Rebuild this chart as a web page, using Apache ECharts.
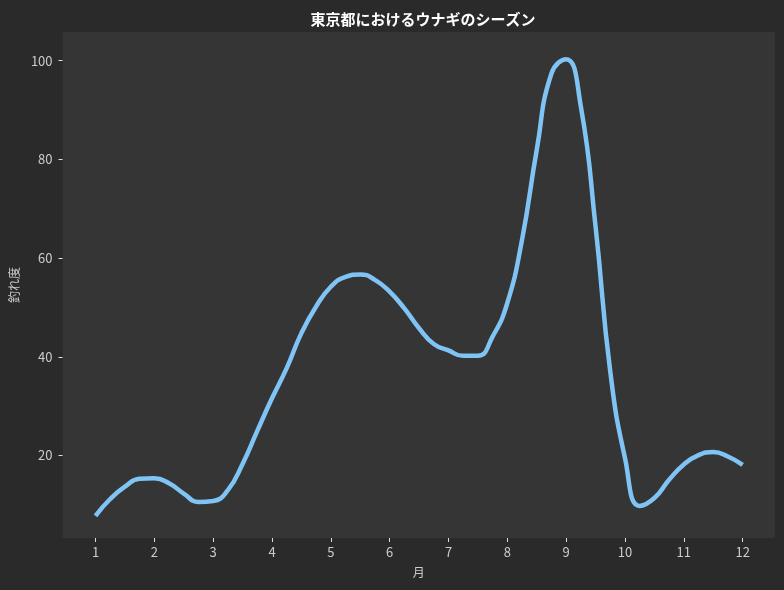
<!DOCTYPE html>
<html>
<head>
<meta charset="utf-8">
<title>東京都におけるウナギのシーズン</title>
<script src="https://cdn.jsdelivr.net/npm/echarts@6/dist/echarts.min.js"></script>
<style>
  html, body { margin: 0; padding: 0; background: #2a2a2a; }
  #chart { width: 784px; height: 590px; }
</style>
</head>
<body>
<div id="chart"></div>
<script>
// 月 (x) と釣れ度 (y)、図から読み取った値
var months = [1, 1.25, 1.5, 1.75, 2, 2.25, 2.5, 2.75, 3, 3.25, 3.5, 3.75, 4, 4.25, 4.5, 4.75,
  5, 5.25, 5.5, 5.75, 6, 6.25, 6.5, 6.75, 7, 7.25, 7.5, 7.75, 8, 8.25, 8.5, 8.75,
  9, 9.25, 9.5, 9.75, 10, 10.25, 10.5, 10.75, 11, 11.25, 11.5, 11.75, 12];
var catchRate = [7.8, 11.2, 13.7, 15.3, 15.4, 14.4, 12.3, 10.6, 10.8, 13.0, 18.3, 25.0, 31.6, 37.7, 44.8, 50.2,
  54.2, 56.2, 56.7, 55.6, 53.2, 49.8, 45.8, 42.6, 41.3, 40.2, 40.2, 44.1, 50.9, 63.7, 81.9, 97.4,
  100.3, 90.7, 66.4, 37.0, 19.5, 9.8, 11.4, 15.1, 18.2, 20.1, 20.7, 19.8, 18.1];
var xTicks = [1, 2, 3, 4, 5, 6, 7, 8, 9, 10, 11, 12];
var yTicks = [20, 40, 60, 80, 100];

var chart = echarts.init(document.getElementById('chart'));
var font = '"Noto Sans CJK JP", "Noto Sans", sans-serif';
var pts = [];
for (var i = 0; i < months.length; i++) pts.push([months[i], catchRate[i]]);

chart.setOption({
  backgroundColor: '#2a2a2a',
  animation: false,
  title: {
    text: '東京都におけるウナギのシーズン',
    left: 418, top: 7, textAlign: 'center',
    textStyle: { color: '#ffffff', fontSize: 15, fontWeight: 'bold', fontFamily: font }
  },
  grid: {
    left: 61, right: 9, top: 32, bottom: 52,
    show: true, backgroundColor: '#353535', borderWidth: 0
  },
  xAxis: {
    type: 'value', min: 0.44, max: 12.55,
    name: '月', nameLocation: 'middle', nameGap: 28,
    nameTextStyle: { color: '#cccccc', fontSize: 12, fontFamily: font },
    axisLine: { show: false },
    axisTick: { show: true, length: 4, customValues: xTicks, lineStyle: { color: '#dddddd' } },
    axisLabel: { customValues: xTicks, color: '#cccccc', fontSize: 13, margin: 8, fontFamily: font },
    splitLine: { show: false }
  },
  yAxis: {
    type: 'value', min: 3.3, max: 105.8,
    name: '釣れ度', nameLocation: 'middle', nameGap: 37, nameRotate: 90,
    nameTextStyle: { color: '#cccccc', fontSize: 12, fontFamily: font },
    axisLine: { show: false },
    axisTick: { show: true, length: 4, customValues: yTicks, lineStyle: { color: '#dddddd' } },
    axisLabel: { customValues: yTicks, color: '#cccccc', fontSize: 13, margin: 10, fontFamily: font },
    splitLine: { show: false }
  },
  series: [{
    type: 'line',
    data: pts,
    smooth: true,
    showSymbol: false,
    lineStyle: { color: '#7fc4f4', width: 4.5 }
  }]
});
</script>
</body>
</html>
